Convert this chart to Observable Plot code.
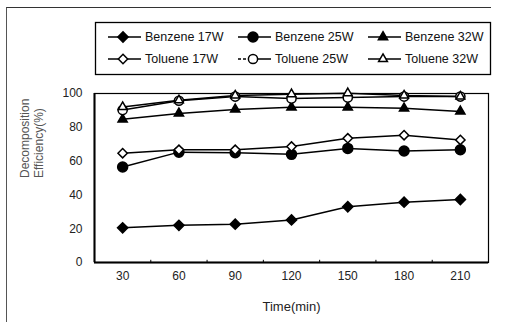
<!DOCTYPE html>
<html>
<head>
<meta charset="utf-8">
<script src="https://cdn.jsdelivr.net/npm/d3@7"></script>
<script src="https://cdn.jsdelivr.net/npm/@observablehq/plot@0.6"></script>
<style>
  html, body { margin: 0; padding: 0; background: #fff; }
  #wrap { position: relative; width: 508px; height: 322px; overflow: hidden; font-family: "Liberation Sans", Arial, sans-serif; }
  #border { position: absolute; left: 6px; top: 7px; width: 484px; height: 330px; border-top: 1px solid #333; border-left: 1px solid #555; }
  #chart { position: absolute; left: 0; top: 0; }
  #legend { position: absolute; left: 0; top: 0; }
</style>
</head>
<body>
<div id="wrap">
  <div id="border"></div>
  <div id="chart"></div>
  <svg id="legend" width="508" height="90"></svg>
</div>
<script>
const times = [30, 60, 90, 120, 150, 180, 210];
const seriesNames = ["Benzene 17W", "Benzene 25W", "Benzene 32W", "Toluene 17W", "Toluene 25W", "Toluene 32W"];
const benzene17 = [20.5, 22, 22.7, 25.2, 33, 35.7, 37.3];
const benzene25 = [56.5, 65.3, 65, 64, 67.5, 66, 66.7];
const benzene32 = [84.7, 88.2, 90.6, 91.8, 91.8, 91.2, 89.4];
const toluene17 = [64.7, 66.7, 66.7, 68.6, 73.5, 75.3, 72.5];
const toluene25 = [90.2, 95.7, 98.2, 97, 97.6, 98.2, 98.2];
const toluene32 = [92, 96, 98.8, 99.6, 100.2, 98.8, 98.2];
const yTicks = [0, 20, 40, 60, 80, 100];

const seriesValues = [benzene17, benzene25, benzene32, toluene17, toluene25, toluene32];
const symbols = ["diamond2", "circle", "triangle2", "diamond2", "circle", "triangle2"];
const fills = ["black", "black", "black", "white", "white", "white"];
const radii = [4.6, 5, 4.4, 4.2, 4.6, 4.2];

const data = [];
seriesNames.forEach((name, i) => {
  times.forEach((t, j) => data.push({series: name, time: t, value: seriesValues[i][j], idx: i}));
});

const marks = [
  Plot.frame({stroke: "black", strokeWidth: 1.2}),
  Plot.ruleY([0], {stroke: "black", strokeWidth: 2}),
  Plot.ruleX([15], {stroke: "black", strokeWidth: 2}),
  Plot.axisY({ticks: yTicks, tickSize: 0, tickPadding: 12, fontSize: 12, label: null, fill: "#222"}),
  Plot.axisX({ticks: times, tickSize: 0, tickPadding: 9, fontSize: 12, label: null, fill: "#222"}),
  Plot.ruleX(times.slice(0, -1).map(t => t + 15), {y1: 0, y2: 1.3, stroke: "black", strokeWidth: 1})
];
seriesNames.forEach((name, i) => {
  marks.push(Plot.line(data.filter(d => d.idx === i), {x: "time", y: "value", stroke: "black", strokeWidth: 1.5}));
});
seriesNames.forEach((name, i) => {
  marks.push(Plot.dot(data.filter(d => d.idx === i), {x: "time", y: "value", symbol: () => symbols[i], r: radii[i], fill: fills[i], stroke: "black", strokeWidth: 1.5}));
});
marks.push(Plot.text(["Time(min)"], {frameAnchor: "bottom", dy: 48, fontSize: 13, fill: "#222"}));
marks.push(Plot.text(["Decomposition\nEfficiency(%)"], {frameAnchor: "left", dx: -63, rotate: -90, fontSize: 12, lineHeight: 1.2, fill: "#555"}));

const chart = Plot.plot({
  width: 508,
  height: 322,
  marginLeft: 94,
  marginRight: 20,
  marginTop: 93,
  marginBottom: 60,
  style: {background: "transparent", fontFamily: "'Liberation Sans', Arial, sans-serif"},
  x: {domain: [15, 225], type: "linear"},
  y: {domain: [0, 100], type: "linear"},
  symbol: {type: "identity"},
  marks
});
document.getElementById("chart").appendChild(chart);

// Legend
const legend = d3.select("#legend");
legend.append("rect").attr("x", 95.5).attr("y", 22.5).attr("width", 395).attr("height", 52)
  .attr("fill", "white").attr("stroke", "black").attr("stroke-width", 1.3);
const colX = [108, 238, 368];
const rowY = [37, 59];
const symMap = {diamond2: d3.symbolDiamond2, circle: d3.symbolCircle, triangle2: d3.symbolTriangle2};
seriesNames.forEach((name, i) => {
  const col = i % 3, row = Math.floor(i / 3);
  const x0 = colX[col], y0 = rowY[row];
  const g = legend.append("g");
  g.append("line").attr("x1", x0).attr("x2", x0 + 33).attr("y1", y0).attr("y2", y0)
    .attr("stroke", "black").attr("stroke-width", 1.5)
    .attr("stroke-dasharray", i === 4 ? "3,2,3,2,100" : null);
  g.append("path").attr("d", d3.symbol(symMap[symbols[i]], Math.PI * radii[i] * radii[i])())
    .attr("transform", `translate(${x0 + 15},${y0})`)
    .attr("fill", fills[i]).attr("stroke", "black").attr("stroke-width", 1.5);
  g.append("text").attr("x", x0 + 37).attr("y", y0).attr("dy", "0.35em")
    .attr("font-size", 12.5).attr("fill", "#111")
    .attr("font-family", "'Liberation Sans', Arial, sans-serif").text(name);
});
</script>
</body>
</html>
